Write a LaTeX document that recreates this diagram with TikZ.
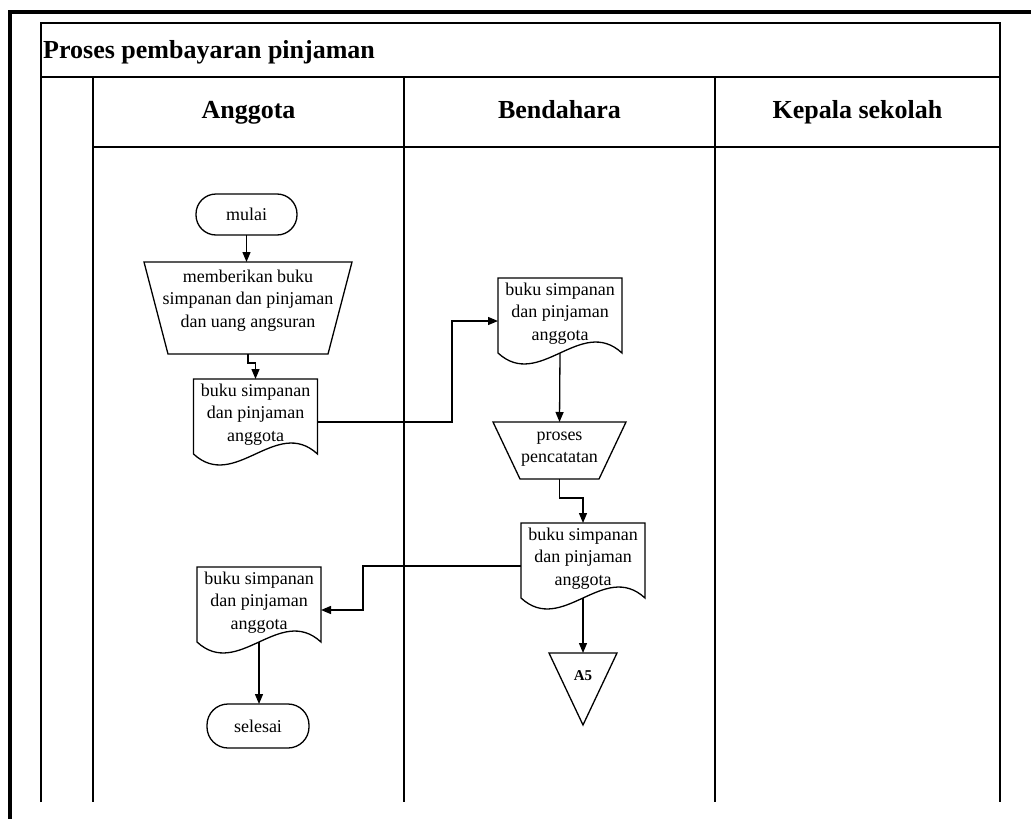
\documentclass[tikz,border=0pt]{standalone}
\usepackage{fontspec}
\setmainfont{Liberation Serif}
\usetikzlibrary{arrows.meta}

% text block of a fixed size, set from the top; #3 is the height of the first line
\newcommand\topbox[4]{%
  \begin{minipage}[c][#2][t]{#1}\centering\rule{0pt}{#3}#4\end{minipage}}

% document symbol: straight top and sides, wavy bottom
\newcommand\docoutline[1]{%
  \draw[outline] ([yshift=11pt]#1.south west) -- (#1.north west) -- (#1.north east)
    -- ([yshift=11pt]#1.south east)
    .. controls ([xshift=-41.3pt,yshift=49pt]#1.south east)
    and ([xshift=41.3pt,yshift=-27pt]#1.south west)
    .. ([yshift=11pt]#1.south west) -- cycle;}

% manual operation: wide top, narrow bottom
\newcommand\manualop[2]{%
  \draw[outline] (#1.north west) -- (#1.north east)
    -- ([xshift=-#2]#1.south east) -- ([xshift=#2]#1.south west) -- cycle;}

\tikzset{
  lane/.style={line width=1.6pt},
  frameline/.style={line width=4pt, line join=miter},
  outline/.style={line width=1.3pt, line join=miter},
  shp/.style={draw=none, inner sep=0pt, outer sep=0pt},
  term/.style={draw, line width=1.3pt, inner sep=0pt, outer sep=0pt},
  flow/.style={line width=1.3pt, -{Triangle[length=10pt,width=8pt]}},
  headtext/.style={font=\fontsize{26}{30}\bfseries\selectfont, inner sep=0pt},
}

\begin{document}
\begin{tikzpicture}[x=1pt, y=-1pt, font=\fontsize{18}{22.5}\selectfont]
\useasboundingbox (0,0) rectangle (1031,819);

% outer frame
\draw[frameline] (10,819) -- (10,11.5) -- (1031,11.5);

% pool and lanes
\draw[lane] (41,802) -- (41,23) -- (1000,23) -- (1000,802);
\draw[lane] (41,77) -- (1000,77);
\draw[lane] (93,147) -- (1000,147);
\draw[lane] (93,77) -- (93,802);
\draw[lane] (404,77) -- (404,802);
\draw[lane] (715,77) -- (715,802);

\node[headtext, anchor=base west] (title) at (43,58) {Proses pembayaran pinjaman};
\node[headtext, anchor=base] (hang) at (248.5,118) {Anggota};
\node[headtext, anchor=base] (hben) at (559.5,118) {Bendahara};
\node[headtext, anchor=base] (hkep) at (857.5,118) {Kepala sekolah};

% Anggota lane
\node[term, rounded corners=20pt, minimum width=101pt, minimum height=41pt] (mulai) at (246.5,214.5) {mulai};
\node[shp] (give) at (248,308) {\topbox{208pt}{92pt}{20pt}{memberikan buku\\simpanan dan pinjaman\\dan uang angsuran}};
\manualop{give}{24pt}
\node[shp] (docA) at (255.5,422) {\topbox{124pt}{86pt}{17pt}{buku simpanan\\dan pinjaman\\anggota}};
\docoutline{docA}
\node[shp] (docC) at (259,610) {\topbox{124pt}{86pt}{17pt}{buku simpanan\\dan pinjaman\\anggota}};
\docoutline{docC}
\node[term, rounded corners=21pt, minimum width=102pt, minimum height=44pt] (selesai) at (258,726) {selesai};

% Bendahara lane
\node[shp] (docB) at (560,321) {\topbox{124pt}{86pt}{17pt}{buku simpanan\\dan pinjaman\\anggota}};
\docoutline{docB}
\node[shp] (catat) at (559.5,450.5) {\topbox{133pt}{57pt}{18pt}{proses\\pencatatan}};
\manualop{catat}{27pt}
\node[shp] (docD) at (583,566) {\topbox{124pt}{86pt}{17pt}{buku simpanan\\dan pinjaman\\anggota}};
\docoutline{docD}
\node[shp] (a5) at (583,689) {\topbox{68pt}{72pt}{27pt}{\fontsize{15}{18}\bfseries\selectfont A5}};
\draw[outline] (a5.north west) -- (a5.north east) -- (a5.south) -- cycle;

% flows
\draw[flow] (mulai.south) -- (mulai.south |- give.north);
\draw[flow] (give.south) -- ++(0,9) -| (docA.north);
\draw[flow] (docA.east) -- ++(134.5,0) |- (docB.west);
\draw[flow] ([yshift=11pt]docB.south) -- (catat.north);
\draw[flow] (catat.south) -- ++(0,19) -| (docD.north);
\draw[flow] ([yshift=11pt]docD.south) -- (a5.north);
\draw[flow] (docD.west) -- ++(-158,0) |- (docC.east);
\draw[flow] ([yshift=11pt]docC.south) -- (docC.south |- selesai.north);
\end{tikzpicture}
\end{document}
